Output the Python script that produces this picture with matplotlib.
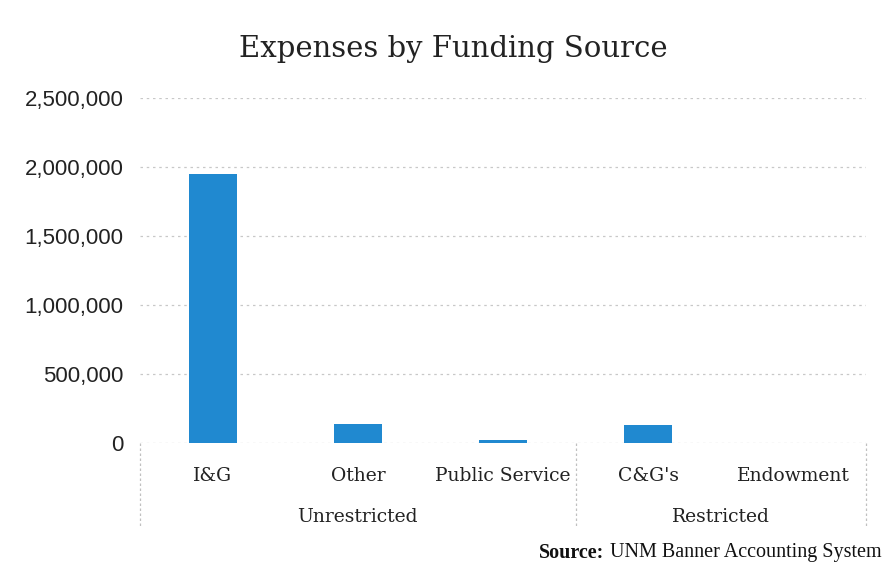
import matplotlib
matplotlib.use("Agg")
import matplotlib.pyplot as plt
from matplotlib.ticker import FuncFormatter

categories = ["I&G", "Other", "Public Service", "C&G's", "Endowment"]
groups = ["Unrestricted", "Restricted"]
group_sizes = [3, 2]
values = [1950000, 135000, 20000, 128000, 0]
yticks = [0, 500000, 1000000, 1500000, 2000000, 2500000]

fig = plt.figure(figsize=(8.83, 5.65), dpi=100)
ax = fig.add_axes([0.1586, 0.2159, 0.9807 - 0.1586, 0.8265 - 0.2159])

x = list(range(len(categories)))
ax.bar(x, values, width=0.33, color="#2089d0", zorder=3)
ax.set_xlim(-0.5, len(categories) - 0.5)
ax.set_ylim(0, 2500000)
ax.set_yticks(yticks)
ax.yaxis.set_major_formatter(FuncFormatter(lambda v, p: f"{int(v):,}"))
ax.grid(axis="y", color="#c8c8c8", linestyle=(0, (2, 3)), linewidth=0.9, zorder=0)
for s in ax.spines.values():
    s.set_visible(False)
ax.tick_params(axis="both", length=0)
for lab in ax.get_yticklabels():
    lab.set_fontfamily("Liberation Sans")
    lab.set_fontsize(16)
    lab.set_color("#222222")
ax.tick_params(axis="y", pad=12)
ax.set_xticks(x)
ax.set_xticklabels(categories, fontfamily="DejaVu Serif", fontsize=13.5, color="#222222")
ax.tick_params(axis="x", pad=17)

# group labels and dividers
trans = ax.get_xaxis_transform()
start = -0.5
bounds = [start]
for g, n in zip(groups, group_sizes):
    end = start + n
    ax.text((start + end) / 2, -0.215, g, transform=trans, ha="center", va="center",
            fontfamily="DejaVu Serif", fontsize=13.5, color="#222222")
    start = end
    bounds.append(end)
for b in bounds:
    ax.plot([b, b], [0, -0.245], transform=trans, color="#c0c0c0",
            linestyle=(0, (2, 2)), linewidth=0.9, clip_on=False)

fig.text(0.513, 0.913, "Expenses by Funding Source", ha="center", va="center",
         fontfamily="DejaVu Serif", fontsize=21, color="#222222")

t2 = fig.text(0.998, 0.022, " UNM Banner Accounting System", ha="right", va="center",
              fontfamily="Liberation Serif", fontsize=14.5, color="#111111")
fig.canvas.draw()
bb = t2.get_window_extent()
x0 = fig.transFigure.inverted().transform((bb.x0, bb.y0))[0]
fig.text(x0, 0.022, "Source:", ha="right", va="center",
         fontfamily="Liberation Serif", fontweight="bold", fontsize=14.5, color="#111111")

fig.savefig("out.png", dpi=100)
